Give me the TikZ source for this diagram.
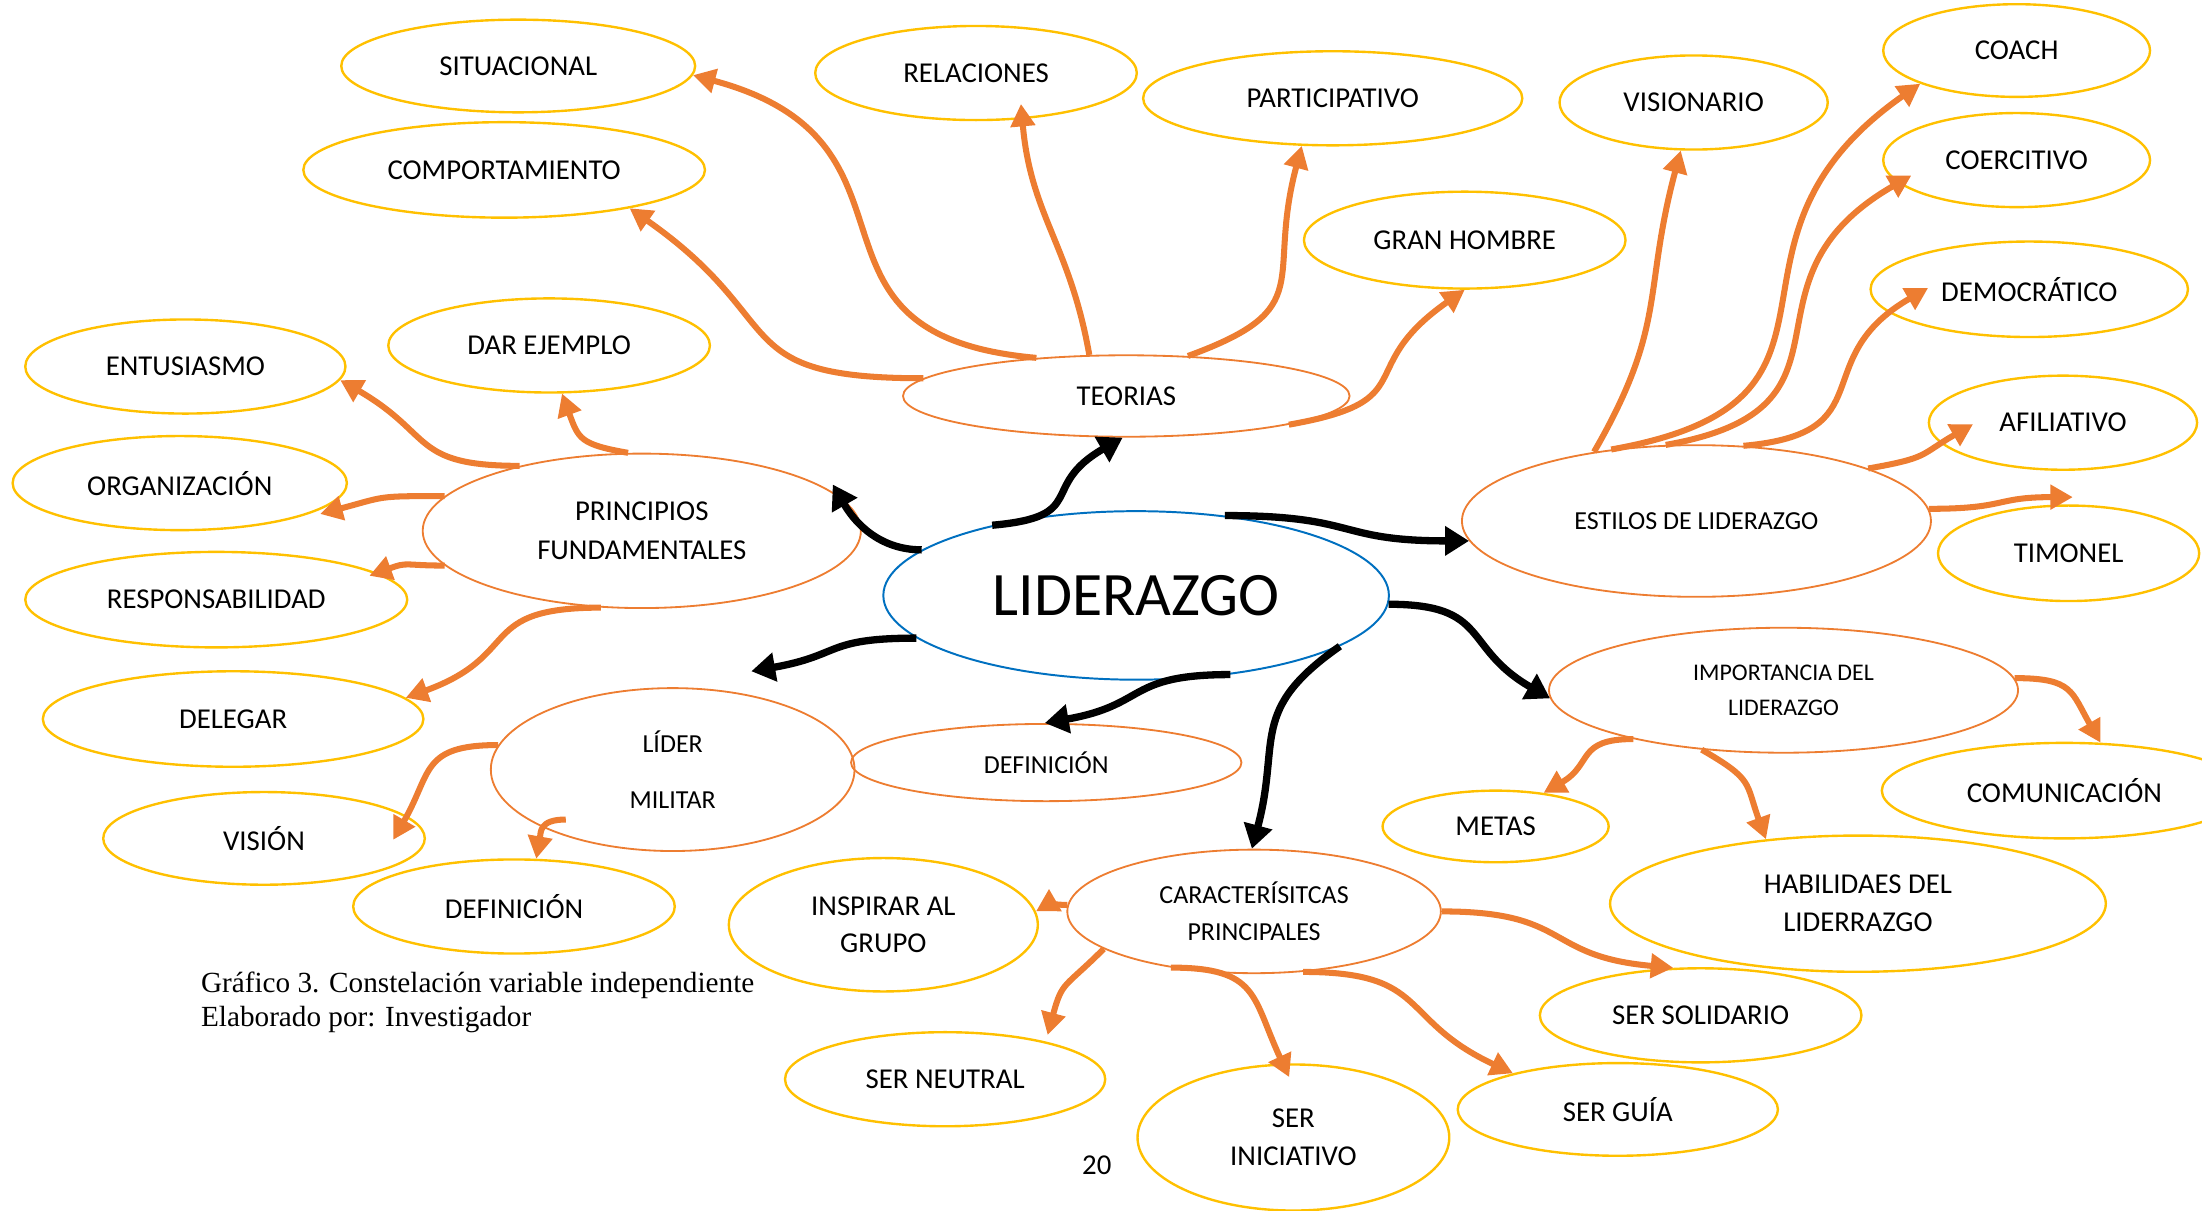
\documentclass[tikz,border=0pt]{standalone}
\usepackage{fontspec}
\setmainfont{Carlito}
\newfontfamily\pie{Liberation Serif}
\usetikzlibrary{shapes.geometric,arrows.meta}
\definecolor{amarillo}{HTML}{FFC000}
\definecolor{naranja}{HTML}{ED7D31}
\definecolor{azul}{HTML}{0070C0}
\tikzset{
	hoja/.style={ellipse, draw=amarillo, line width=1.7pt, inner sep=0pt, align=center, font=\fontsize{20.5}{27}\selectfont},
	rama/.style={ellipse, draw=naranja, line width=1.3pt, inner sep=0pt, align=center, font=\fontsize{18.5}{26}\selectfont},
	medida/.style 2 args={minimum width=#1pt, minimum height=#2pt},
	flecha/.style={naranja, line width=4.3pt, looseness=1.4, -{Triangle[length=16pt,width=17pt]}},
	negra/.style={black, line width=5.2pt, looseness=1.4, -{Triangle[length=17pt,width=20pt]}}
}
\begin{document}
\begin{tikzpicture}[x=1pt,y=1pt]
\useasboundingbox (0,0) rectangle (1568,862);
% centro
\node[ellipse, draw=azul, line width=1.4pt, inner sep=0pt, medida={360}{120}, font=\fontsize{44}{44}\selectfont] (liderazgo) at (809,438) {LIDERAZGO};
% ramas
\node[rama, medida={318}{58}, font=\fontsize{20.5}{27}\selectfont] (teorias) at (802,580) {TEORIAS};
\node[rama, medida={334}{108}] (estilos) at (1208,491) {ESTILOS DE LIDERAZGO};
\node[rama, medida={312}{110}, font=\fontsize{20.5}{28}\selectfont] (principios) at (457,484) {PRINCIPIOS\\FUNDAMENTALES};
\node[rama, medida={259}{116}, font=\fontsize{18.5}{40}\selectfont] (militar) at (479,314) {LÍDER\\MILITAR};
\node[rama, medida={278}{55}] (definicion) at (745,319) {DEFINICIÓN};
\node[rama, medida={334}{89}, font=\fontsize{17}{25}\selectfont] (importancia) at (1270,370.5) {IMPORTANCIA DEL\\LIDERAZGO};
\node[rama, medida={266}{88}] (caracteristicas) at (893,213) {CARACTERÍSITCAS\\PRINCIPALES};
% hojas
\node[hoja, medida={252}{66}] (situacional) at (369,815) {SITUACIONAL};
\node[hoja, medida={286}{68}] (comportamiento) at (359,741) {COMPORTAMIENTO};
\node[hoja, medida={229}{67}] (relaciones) at (695,810) {RELACIONES};
\node[hoja, medida={270}{67}] (participativo) at (949,792) {PARTICIPATIVO};
\node[hoja, medida={229}{69}] (granhombre) at (1043,691) {GRAN HOMBRE};
\node[hoja, medida={191}{67}] (visionario) at (1206,789) {VISIONARIO};
\node[hoja, medida={190}{66}] (coach) at (1436,826) {COACH};
\node[hoja, medida={190}{67}] (coercitivo) at (1436,748) {COERCITIVO};
\node[hoja, medida={226}{68}] (democratico) at (1445,656) {DEMOCRÁTICO};
\node[hoja, medida={191}{67}] (afiliativo) at (1469,561) {AFILIATIVO};
\node[hoja, medida={186}{68}] (timonel) at (1473,468) {TIMONEL};
\node[hoja, medida={228}{67}] (entusiasmo) at (132,601) {ENTUSIASMO};
\node[hoja, medida={229}{67}] (darejemplo) at (391,616) {DAR EJEMPLO};
\node[hoja, medida={238}{67}] (organizacion) at (128,518) {ORGANIZACIÓN};
\node[hoja, medida={272}{68}] (responsabilidad) at (154,435) {RESPONSABILIDAD};
\node[hoja, medida={271}{68}] (delegar) at (166,350) {DELEGAR};
\node[hoja, medida={229}{66}] (vision) at (188,265) {VISIÓN};
\node[hoja, medida={229}{67}] (definicionb) at (366,216.5) {DEFINICIÓN};
\node[hoja, medida={220}{95}] (inspirar) at (629,203.5) {INSPIRAR AL\\GRUPO};
\node[hoja, medida={228}{67}] (neutral) at (673,93.5) {SER NEUTRAL};
\node[hoja, medida={222}{104}] (iniciativo) at (921,52) {SER\\INICIATIVO};
\node[hoja, medida={228}{66}] (guia) at (1152,72) {SER GUÍA};
\node[hoja, medida={229}{67}] (solidario) at (1211,139) {SER SOLIDARIO};
\node[hoja, medida={353}{97}] (habilidades) at (1323,218.5) {HABILIDAES DEL\\LIDERRAZGO};
\node[hoja, medida={161}{51}] (metas) at (1065,273.5) {METAS};
\node[hoja, medida={260}{68}] (comunicacion) at (1470,299) {COMUNICACIÓN};
% pie
\node[anchor=base west, inner sep=0pt, font=\pie\fontsize{20.8}{24}\selectfont] (grafico) at (143,155) {Gráfico 3. Constelación variable independiente};
\node[anchor=base west, inner sep=0pt, font=\pie\fontsize{20.8}{24}\selectfont] (elaborado) at (143,131) {Elaborado por: Investigador};
\node[font=\fontsize{20.5}{24}\selectfont] (pagina) at (781,32) {20};
% puntas sueltas
\coordinate (pPrin) at (593,517);
\coordinate (pMil) at (535,384);
\coordinate (pRel) at (727,788);
\coordinate (pCoer) at (1361,737);
\coordinate (pDemo) at (1373,657);
\coordinate (pAfil) at (1405,560);
\coordinate (pTim) at (1476,508);
\coordinate (pOrg) at (228,496);
\coordinate (pResp) at (263,452);
\coordinate (pVis) at (280,264);
\coordinate (pNeu) at (746,125);
\coordinate (pIni) at (918,95);
% negras
\draw[negra] (liderazgo.168) to[out=180,in=-60,looseness=1] (pPrin);
\draw[negra] (liderazgo.154) to[out=5,in=-150,looseness=1.6] (teorias.265);
\draw[negra] (liderazgo.42) to[out=0,in=180] (estilos.185);
\draw[negra] (liderazgo.-2) to[out=0,in=150] (importancia.182);
\draw[negra] (liderazgo.-40) to[out=180,in=10] (definicion.92);
\draw[negra] (liderazgo.191) to[out=180,in=10] (pMil);
\draw[negra] (liderazgo.-14) to[out=215,in=75,looseness=1.3] (caracteristicas.92);
% teorias
\draw[flecha] (teorias.157) to[out=175,in=-15,looseness=1.5] (situacional.-3);
\draw[flecha] (teorias.175) to[out=180,in=-35,looseness=1.5] (comportamiento.-17);
\draw[flecha] (teorias.132) to[out=100,in=-85,looseness=1.1] (pRel);
\draw[flecha] (teorias.33) to[out=20,in=-105,looseness=1.5] (participativo.237);
\draw[flecha] (teorias.-10) to[out=10,in=-145,looseness=1.6] (granhombre.-90);
% estilos
\draw[flecha] (estilos.146) to[out=60,in=-105,looseness=1.2] (visionario.255);
\draw[flecha] (estilos.140) to[out=10,in=-145,looseness=1.5] (coach.199);
\draw[flecha] (estilos.112) to[out=10,in=-150,looseness=1.5] (pCoer);
\draw[flecha] (estilos.58) to[out=5,in=-150,looseness=1.5] (pDemo);
\draw[flecha] (estilos.17) to[out=10,in=-150] (pAfil);
\draw[flecha] (estilos.3) to[out=0,in=180] (pTim);
% principios
\draw[flecha] (principios.152) to[out=180,in=-30] (entusiasmo.-5);
\draw[flecha] (principios.100) to[out=170,in=-70] (darejemplo.-75);
\draw[flecha] (principios.170) to[out=180,in=15] (pOrg);
\draw[flecha] (principios.190) to[out=180,in=20] (pResp);
\draw[flecha] (principios.242) to[out=180,in=20,looseness=1.5] (delegar.7);
% militar
\draw[flecha] (militar.172) to[out=180,in=60] (pVis);
\draw[flecha] ([yshift=12pt]militar.212) to[out=180,in=80] (definicionb.65);
% caracteristicas
\draw[flecha] (caracteristicas.178) to[out=180,in=30] (inspirar.5);
\draw[flecha] (caracteristicas.194) to[out=225,in=75] (pNeu);
\draw[flecha] (caracteristicas.214) to[out=0,in=115] (pIni);
\draw[flecha] (caracteristicas.-51) to[out=0,in=155] (guia.161);
\draw[flecha] (caracteristicas.0) to[out=0,in=175] (solidario.120);
% importancia
\draw[flecha] (importancia.3) to[out=0,in=120] (comunicacion.53);
\draw[flecha] (importancia.198) to[out=180,in=30] (metas.35);
\draw[flecha] (importancia.216) to[out=-30,in=110] (habilidades.145);
\end{tikzpicture}
\end{document}
